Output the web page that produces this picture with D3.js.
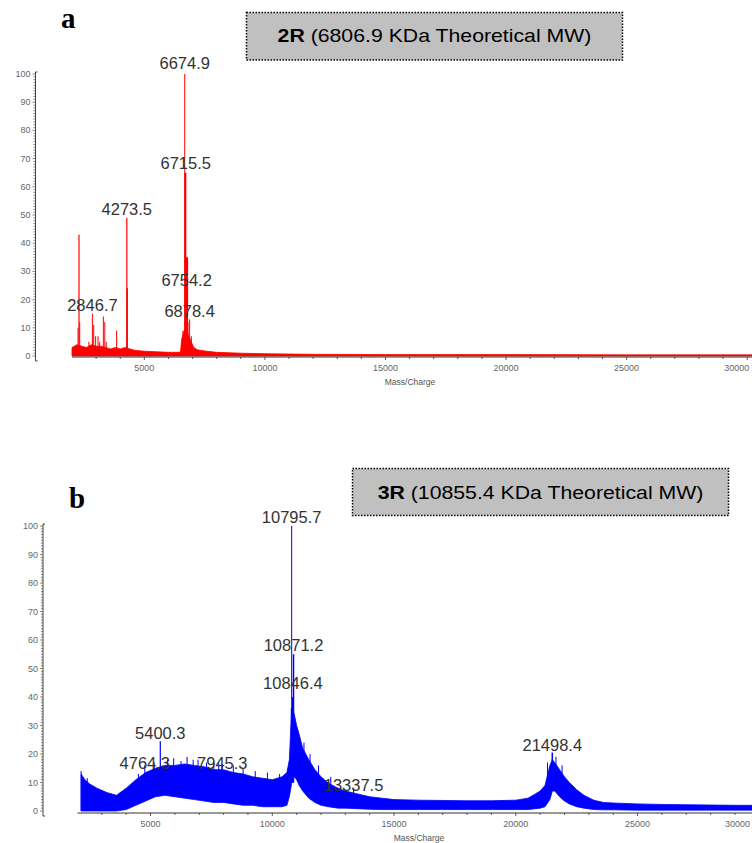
<!DOCTYPE html>
<html>
<head>
<meta charset="utf-8">
<script src="https://cdn.jsdelivr.net/npm/d3@7"></script>
<style>
  html, body { margin: 0; padding: 0; background: #fff; }
  svg { display: block; }
</style>
</head>
<body>
<svg id="chart" width="752" height="843"></svg>
<script>
// ---------------- DATA ----------------
// Panel a (2R) — red spectrum
const titleA = ["2R", " (6806.9 KDa Theoretical MW)"];
const massA  = [2000, 2100, 2200, 2400, 2600, 2800, 3000, 3200, 3400, 3600, 3800, 4000, 4200, 4400, 4600, 5000, 5500, 6000, 6400, 6500, 6550, 6650, 6750, 6850, 6950, 7050, 7200, 7500, 8000, 9000, 10000, 12000, 15000, 20000, 25000, 30200];
const upperA = [3, 3.5, 4, 3.5, 3, 4, 3.5, 3.5, 3, 2.5, 3, 2.5, 3, 2.5, 2, 1.7, 1.5, 1.3, 1.3, 1.5, 6, 9, 9, 7, 5, 3, 2.2, 1.8, 1.3, 1, 0.8, 0.6, 0.5, 0.5, 0.4, 0.4];
const spikeMassA = [2250, 2290, 2320, 2700, 2846.7, 2900, 2980, 3080, 3150, 3300, 3360, 3420, 3850, 4273.5, 4290, 6600, 6674.9, 6700, 6754.2, 6800, 6878.4, 6950];
const spikeIntA  = [10, 43, 12, 5, 15, 11, 7, 7, 5, 14, 12, 5, 9, 49, 24, 9, 100, 65, 35, 12, 13, 7];
const spikeBaseA = [0, 0, 0, 0, 0, 0, 0, 0, 0, 0, 0, 0, 0, 0, 0, 0, 0, 0, 0, 0, 0, 0];
const spikeWidthA = [1, 1.2, 1, 1, 1, 1, 1, 1, 1, 1, 1, 1, 1, 1.2, 1.5, 1, 1, 2, 3, 1.5, 1, 1];
const labelsA     = ["6674.9", "6715.5", "4273.5", "6754.2", "2846.7", "6878.4"];
const labelLevelA = [101.8, 66.3, 50, 24.8, 15.8, 13.8];

// Panel b (3R) — blue spectrum
const titleB = ["3R", " (10855.4 KDa Theoretical MW)"];
const massB  = [2150, 2300, 2500, 2800, 3200, 3600, 4000, 4400, 4800, 5200, 5600, 6000, 6400, 6800, 7200, 7600, 8000, 8400, 8800, 9200, 9600, 10000, 10400, 10600, 10700, 10800, 10900, 11000, 11100, 11250, 11500, 11750, 12000, 12300, 12700, 13000, 13500, 14000, 14500, 15000, 16000, 17000, 18000, 19000, 20000, 20500, 20800, 21000, 21200, 21400, 21500, 21600, 21800, 22000, 22200, 22500, 22800, 23200, 23600, 24000, 25000, 26000, 27000, 28000, 29000, 30000];
const upperB = [13, 11, 9.5, 8, 6.5, 5.5, 8, 11, 13.5, 15, 16, 16, 16.5, 16, 15.5, 14.5, 14.5, 13.5, 13, 12, 11.5, 11, 12, 13.5, 18, 36, 34, 30, 27, 22, 18, 14.5, 12, 9.8, 8, 7, 6, 5, 4.5, 4, 3.8, 3.7, 3.6, 3.6, 3.8, 4.5, 6, 7, 9, 16, 18, 17, 14.5, 12, 10, 7.5, 5.5, 3.8, 3, 2.8, 2.5, 2.3, 2.2, 2.1, 2, 2];
const lowerB = [0, 0, 0, 0, 0, 0, 0.5, 2, 3.5, 5, 5.5, 5, 4.5, 4, 3.5, 3, 3, 2.5, 2, 2, 1.5, 1.5, 1.5, 2, 5, 10, 12, 11, 9, 7, 4.5, 3, 2, 1.5, 1, 1, 0.8, 0.6, 0.5, 0.5, 0.5, 0.5, 0.5, 0.5, 0.5, 0.5, 0.8, 1, 1.5, 4, 7, 7, 5, 3.5, 2.5, 1.5, 1, 0.5, 0.4, 0.4, 0.3, 0.3, 0.3, 0.3, 0.3, 0.3];
const spikeMassB = [2150, 2400, 4500, 4764.3, 5150, 5400.3, 5700, 5950, 6250, 6500, 6750, 6950, 7300, 7600, 7800, 7945.3, 8400, 8800, 9300, 9800, 10300, 10650, 10795.7, 10820, 10846.4, 10871.2, 11300, 11550, 11900, 12400, 13337.5, 21300, 21498.4, 21650, 21900];
const spikeIntB  = [14, 11.5, 13, 16, 17, 24.5, 18, 18.5, 17.5, 19, 18, 18, 17, 16.5, 17, 16.5, 16, 15, 14, 13.5, 13, 15, 100, 36, 40, 55, 24, 20, 16, 12, 8, 17, 20.5, 19, 16];
const spikeBaseB = [0, 0, 10, 12, 13, 14, 14, 14, 14, 14, 14, 14, 14, 13, 13, 13, 12, 12, 11, 10, 10, 11, 10, 10, 10, 10, 18, 15, 12, 9, 6, 8, 10, 15, 13];
const spikeWidthB = [1, 1, 1, 1, 1, 1.2, 1, 1, 1, 1, 1, 1, 1, 1, 1, 1, 1, 1, 1, 1, 1, 1, 1, 3, 2, 1.5, 1, 1, 1, 1, 1, 1, 1.5, 1, 1];
const labelsB     = ["10795.7", "10871.2", "10846.4", "5400.3", "4764.3", "7945.3", "13337.5", "21498.4"];
const labelLevelB = [101, 56.1, 42.8, 25.3, 14.7, 14.7, 7, 21];

const xTicks = [5000, 10000, 15000, 20000, 25000, 30000];
const yTicks = [0, 10, 20, 30, 40, 50, 60, 70, 80, 90, 100];
const xLabel = "Mass/Charge";
const panelLetters = ["a", "b"];

// ---------------- DRAW ----------------
const svg = d3.select("#chart");
const FONT = "'Liberation Sans', Arial, sans-serif";

function panel(cfg) {
  const g = svg.append("g");
  const x = d3.scaleLinear().domain(cfg.xDomain).range(cfg.xRange);
  const y = d3.scaleLinear().domain([0, 100]).range([cfg.y0, cfg.y100]);

  // title box
  g.append("rect")
    .attr("x", cfg.box[0]).attr("y", cfg.box[1])
    .attr("width", cfg.box[2]).attr("height", cfg.box[3])
    .attr("fill", "#c0c0c0").attr("stroke", "#000")
    .attr("stroke-width", 1.5).attr("stroke-dasharray", "1.5,1.5");
  const tg = g.append("g")
    .attr("transform", `translate(${cfg.box[0] + cfg.box[2] / 2},${cfg.titleY})`);
  const t = tg.append("text")
    .attr("text-anchor", "middle")
    .attr("font-family", FONT).attr("font-size", 18.5).attr("fill", "#000");
  t.append("tspan").attr("font-weight", "bold").text(cfg.title[0]);
  t.append("tspan").text(cfg.title[1]);
  const w = t.node().getComputedTextLength();
  t.attr("transform", `scale(${cfg.titleW / w},1)`);

  // panel letter
  g.append("text")
    .attr("x", cfg.letterPos[0]).attr("y", cfg.letterPos[1])
    .attr("font-family", "'Liberation Serif', 'Times New Roman', serif")
    .attr("font-weight", "bold").attr("font-size", 29).attr("fill", "#000")
    .text(cfg.letter);

  // spectrum band
  const rows = cfg.mass.map((m, i) => ({ m, hi: cfg.upper[i], lo: cfg.lower ? cfg.lower[i] : 0 }));
  g.append("path").datum(rows)
    .attr("fill", cfg.color).attr("stroke", cfg.color).attr("stroke-width", 0.8)
    .attr("d", d3.area().x(d => x(d.m)).y0(d => y(d.lo)).y1(d => y(d.hi)));

  // spikes
  g.selectAll("line.spike").data(cfg.spikeMass).join("line")
    .attr("class", "spike")
    .attr("x1", d => x(d)).attr("x2", d => x(d))
    .attr("y1", (d, i) => y(cfg.spikeBase[i])).attr("y2", (d, i) => y(cfg.spikeInt[i]))
    .attr("stroke", cfg.color).attr("stroke-width", (d, i) => cfg.spikeWidth[i]);

  // x axis
  const xAxisY = cfg.xAxisY;
  const xa = g.append("g").attr("transform", `translate(0,${xAxisY})`);
  xa.append("line").attr("x1", cfg.xRange[0]).attr("x2", 752).attr("stroke", "#333").attr("stroke-width", 1);
  const minorX = d3.range(3000, 31000, 1000);
  xa.selectAll("line.mx").data(minorX).join("line")
    .attr("x1", d => x(d)).attr("x2", d => x(d))
    .attr("y1", 0).attr("y2", d => d % 5000 === 0 ? 3 : 2)
    .attr("stroke", "#333").attr("stroke-width", 0.8);
  xa.selectAll("text").data(xTicks).join("text")
    .attr("x", d => d === 30000 ? Math.min(x(d) + 2, 750) : x(d))
    .attr("y", 14)
    .attr("text-anchor", d => d === 30000 ? "end" : "middle")
    .attr("font-family", FONT).attr("font-size", 9).attr("fill", "#666")
    .text(d => d);
  g.append("text")
    .attr("x", cfg.xLabelX).attr("y", xAxisY + 28)
    .attr("text-anchor", "middle")
    .attr("font-family", FONT).attr("font-size", 8.5).attr("fill", "#555")
    .text(xLabel);

  // y axis
  const ya = g.append("g").attr("transform", `translate(${cfg.yAxisX},0)`);
  ya.append("line").attr("y1", y(100) - 2).attr("y2", y(0) + 5).attr("stroke", "#444").attr("stroke-width", 1);
  ya.append("line").attr("x1", 0).attr("x2", 2).attr("y1", y(100) - 2).attr("y2", y(100) - 2).attr("stroke", "#444");
  ya.append("line").attr("x1", 0).attr("x2", 2).attr("y1", y(0) + 5).attr("y2", y(0) + 5).attr("stroke", "#444");
  ya.selectAll("line.my").data(d3.range(0, 101, 1)).join("line")
    .attr("class", "my")
    .attr("x1", d => d % 10 === 0 ? -3 : -2).attr("x2", 0)
    .attr("y1", d => y(d)).attr("y2", d => y(d))
    .attr("stroke", "#555").attr("stroke-width", 0.7);
  ya.selectAll("text").data(yTicks).join("text")
    .attr("x", -5).attr("y", d => y(d) + 3)
    .attr("text-anchor", "end")
    .attr("font-family", FONT).attr("font-size", 9).attr("fill", "#666")
    .text(d => d);

  // peak labels
  g.selectAll("text.pk").data(cfg.labels).join("text")
    .attr("class", "pk")
    .attr("x", d => x(+d)).attr("y", (d, i) => y(cfg.labelLevel[i]))
    .attr("text-anchor", "middle")
    .attr("font-family", FONT).attr("font-size", 16.5).attr("fill", "#333")
    .text(d => d);
}

panel({
  xDomain: [2000, 30200], xRange: [72, 752],
  y0: 356, y100: 74, xAxisY: 357, yAxisX: 35.5, xLabelX: 410,
  box: [246.5, 12.5, 376, 47.5], titleY: 42, title: titleA, titleW: 314,
  letter: panelLetters[0], letterPos: [61, 28],
  mass: massA, upper: upperA, lower: null,
  spikeMass: spikeMassA, spikeInt: spikeIntA, spikeBase: spikeBaseA, spikeWidth: spikeWidthA,
  labels: labelsA, labelLevel: labelLevelA, color: "#ff0000"
});

panel({
  xDomain: [2000, 30000], xRange: [77.5, 759.3],
  y0: 811, y100: 526, xAxisY: 813, yAxisX: 43, xLabelX: 419,
  box: [352.5, 468.5, 376, 47], titleY: 498.5, title: titleB, titleW: 326,
  letter: panelLetters[1], letterPos: [69, 508],
  mass: massB, upper: upperB, lower: lowerB,
  spikeMass: spikeMassB, spikeInt: spikeIntB, spikeBase: spikeBaseB, spikeWidth: spikeWidthB,
  labels: labelsB, labelLevel: labelLevelB, color: "#0000ff"
});
</script>
</body>
</html>
